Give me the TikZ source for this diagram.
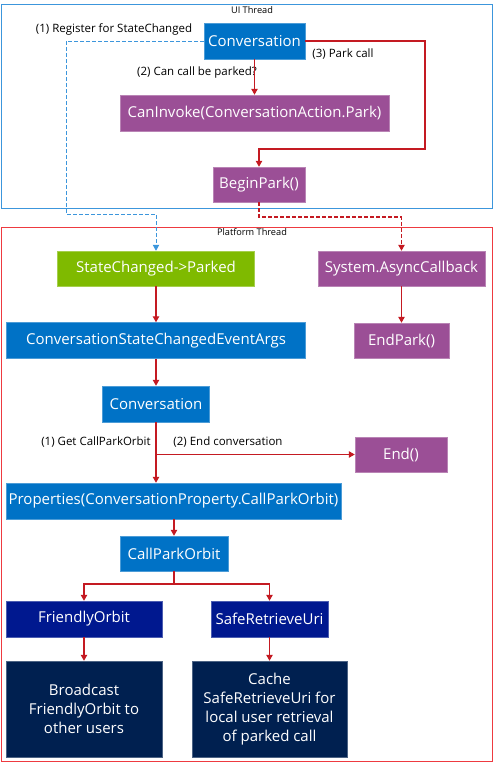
\documentclass[tikz,border=0pt]{standalone}
\usepackage{fontspec}
\setmainfont{Open Sans}
\usetikzlibrary{arrows.meta,positioning,calc}

\definecolor{msblue}{HTML}{0072C6}
\definecolor{mspurple}{HTML}{9B4F96}
\definecolor{msgreen}{HTML}{7FBA00}
\definecolor{msnavy}{HTML}{00188F}
\definecolor{msdark}{HTML}{002050}
\definecolor{flowred}{HTML}{C41A22}
\definecolor{uiline}{HTML}{3C96DC}
\definecolor{ptline}{HTML}{EE3A40}

\tikzset{
  box/.style={fill=#1, draw=#1!70!white, line width=0.5pt, text=white,
    inner sep=0pt, font=\fontsize{15}{19}\selectfont, align=center},
  flow/.style={draw=flowred, line width=1.1pt, -{Triangle[width=6.5pt,length=6pt]}},
  lbl/.style={font=\fontsize{11.5}{13}\selectfont, inner sep=0pt},
  thread/.style={font=\fontsize{9.2}{11}\selectfont, inner sep=0pt}
}

\begin{document}
\begin{tikzpicture}[x=1pt,y=-1pt]
  \useasboundingbox (0,0) rectangle (494,763);

  % -- THREAD FRAMES -------------------------------------------------
  \draw[uiline,line width=0.8pt] (1,4) rectangle (492,208);
  \node[thread] (uithread) at (252,10) {UI Thread};
  \draw[ptline,line width=0.8pt] (1,227) rectangle (492,761);
  \node[thread] (ptthread) at (252,232) {Platform Thread};

  % -- UI THREAD -----------------------------------------------------
  \node[box=msblue,minimum width=101,minimum height=36] (conv) at (254.5,41) {Conversation};
  \node[box=mspurple,minimum width=269,minimum height=36] (caninvoke) at (254.5,113) {CanInvoke(ConversationAction.Park)};
  \node[box=mspurple,minimum width=92,minimum height=35] (beginpark) at (259,184.5) {BeginPark()};

  % -- PLATFORM THREAD -----------------------------------------------
  \node[box=msgreen,minimum width=197,minimum height=35] (statechanged) at (156,268.5) {StateChanged->Parked};
  \node[box=mspurple,minimum width=167,minimum height=35] (async) at (401.5,268.5) {System.AsyncCallback};
  \node[box=msblue,minimum width=299,minimum height=36] (eventargs) at (156,340.5) {ConversationStateChangedEventArgs};
  \node[box=mspurple,minimum width=95,minimum height=35] (endpark) at (401.5,340.5) {EndPark()};
  \node[box=msblue,minimum width=107,minimum height=36] (conv2) at (156,404) {Conversation};
  \node[box=mspurple,minimum width=92,minimum height=35] (endcall) at (401,454.5) {End()};
  \node[box=msblue,minimum width=335,minimum height=36] (props) at (173.5,501) {Properties(ConversationProperty.CallParkOrbit)};
  \node[box=msblue,minimum width=108,minimum height=35] (orbit) at (174,553.5) {CallParkOrbit};
  \node[box=msnavy,minimum width=156,minimum height=36] (friendly) at (84,619) {FriendlyOrbit};
  \node[box=msnavy,minimum width=117,minimum height=36] (saferetrieve) at (269.5,619) {SafeRetrieveUri};
  \node[box=msdark,minimum width=156,minimum height=96] (broadcast) at (84,709) {Broadcast\\FriendlyOrbit to\\other users};
  \node[box=msdark,minimum width=155,minimum height=96] (cache) at (269.5,709) {Cache\\SafeRetrieveUri for\\local user retrieval\\of parked call};

  % -- LABELS --------------------------------------------------------
  \node[lbl] (lregister) at (114,29) {(1) Register for StateChanged};
  \node[lbl] (lcanpark) at (197,73) {(2) Can call be parked?};
  \node[lbl] (lparkcall) at (343,54) {(3) Park call};
  \node[lbl] (lgetorbit) at (96,442) {(1) Get CallParkOrbit};
  \node[lbl] (lendconv) at (228,442) {(2) End conversation};

  % -- CONNECTORS ----------------------------------------------------
  \coordinate (regbend) at (66,214);
  \draw[uiline,line width=0.8pt,dash pattern=on 4pt off 2pt,-{Triangle[width=6.5pt,length=6pt]}]
    (conv.west) -| (regbend) -| (statechanged.north);
  \draw[flow] (conv.south) -- (caninvoke.north);
  \coordinate (parkbend) at (425,149);
  \draw[flow] (conv.east) -| (parkbend) -| (beginpark.north);
  \coordinate (cbbend) at (259,217);
  \draw[flow,dash pattern=on 4pt off 2pt] (beginpark.south) -- (cbbend) -| (async.north);

  \draw[flow] (statechanged.south) -- (eventargs.north);
  \draw[flow] (async.south) -- (endpark.north);
  \draw[flow] (eventargs.south) -- (conv2.north);
  \coordinate (endbend) at (156,454.5);
  \draw[flow,-] (conv2.south) -- (endbend);
  \draw[flow] (endbend) -- (endcall.west);
  \draw[flow] (endbend) -- (endbend |- props.north);
  \draw[flow] (props.south -| orbit.north) -- (orbit.north);
  \coordinate (orbitbend) at (174,584);
  \draw[flow,-] (orbit.south) -- (orbitbend);
  \draw[flow] (orbitbend) -| (friendly.north);
  \draw[flow] (orbitbend) -| (saferetrieve.north);
  \draw[flow] (friendly.south) -- (broadcast.north);
  \draw[flow] (saferetrieve.south) -- (cache.north);

\end{tikzpicture}
\end{document}
